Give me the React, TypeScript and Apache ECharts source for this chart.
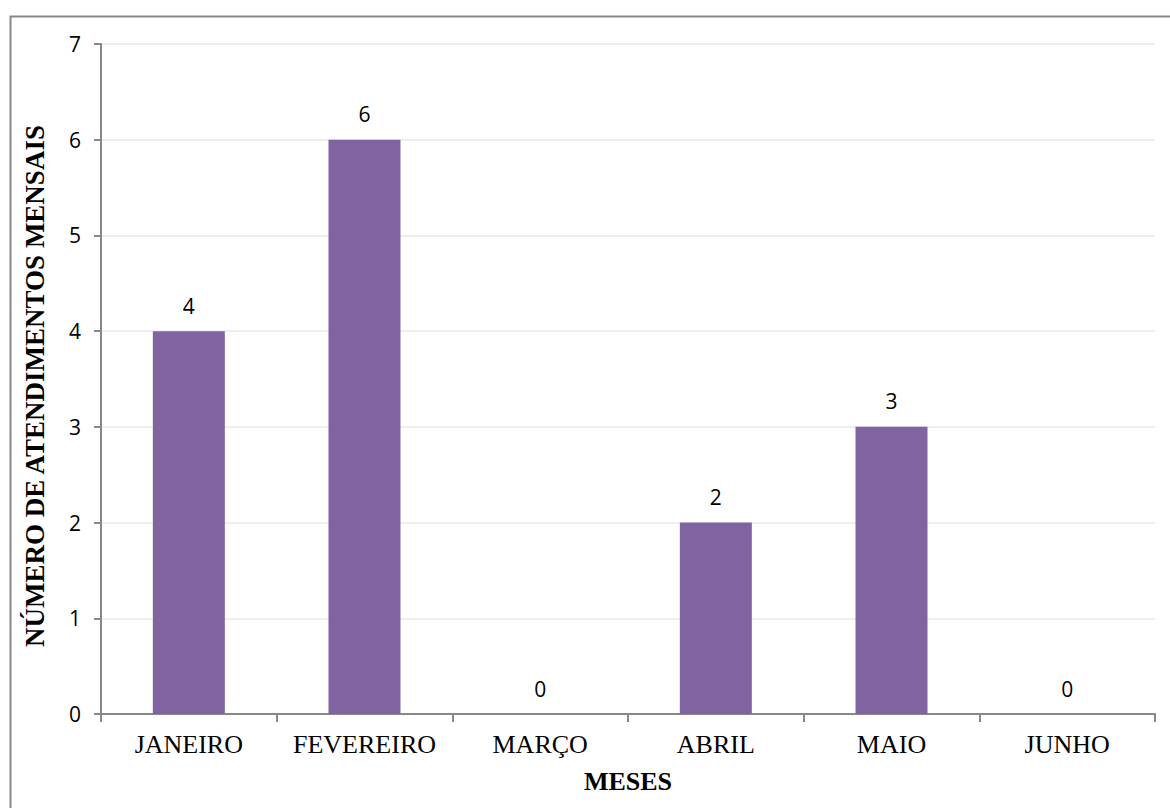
import React, { useEffect, useRef } from "react";
import * as echarts from "echarts";

const categories = ["JANEIRO", "FEVEREIRO", "MARÇO", "ABRIL", "MAIO", "JUNHO"];
const values = [4, 6, 0, 2, 3, 0];
const yTitle = "NÚMERO DE ATENDIMENTOS MENSAIS";
const xTitle = "MESES";

export default function App() {
  const ref = useRef<HTMLDivElement>(null);
  useEffect(() => {
    if (!ref.current) return;
    const chart = echarts.init(ref.current, null, { renderer: "svg" });
    chart.setOption({
      animation: false,
      backgroundColor: "#ffffff",
      graphic: [
        {
          type: "rect",
          left: 8,
          top: 14,
          shape: { width: 1300, height: 900 },
          style: { fill: "none", stroke: "#888888", lineWidth: 2 },
          silent: true,
        },
      ],
      grid: { left: 101, right: 15, top: 44, bottom: 94, containLabel: false },
      xAxis: {
        type: "category",
        data: categories,
        name: xTitle,
        nameLocation: "middle",
        nameGap: 54,
        nameTextStyle: { fontFamily: "Liberation Serif", fontWeight: "bold", fontSize: 26, color: "#000" },
        axisLine: { lineStyle: { color: "#888888", width: 2 } },
        axisTick: { show: true, length: 8, lineStyle: { color: "#888888", width: 2 } },
        axisLabel: { interval: 0, fontFamily: "Liberation Serif", fontSize: 26, color: "#000", margin: 17 },
        splitLine: { show: false },
      },
      yAxis: {
        type: "value",
        min: 0,
        max: 7,
        interval: 1,
        name: yTitle,
        nameLocation: "middle",
        nameGap: 53,
        nameRotate: 90,
        nameTextStyle: {
          fontFamily: "Liberation Serif",
          fontWeight: "bold",
          fontSize: 27,
          color: "#000",
          padding: [0, 14, 0, 0],
        },
        axisLine: { show: true, lineStyle: { color: "#888888", width: 2 } },
        axisTick: { show: true, length: 7, lineStyle: { color: "#888888", width: 2 } },
        axisLabel: { fontFamily: "Open Sans", fontSize: 21, color: "#000", margin: 20 },
        splitLine: { show: true, lineStyle: { color: "#eeeeee", width: 2 } },
      },
      series: [
        {
          type: "bar",
          data: values,
          barWidth: 72,
          itemStyle: { color: "#8064A2" },
          label: {
            show: true,
            position: "top",
            distance: 15,
            fontFamily: "Open Sans",
            fontSize: 21,
            color: "#000",
          },
        },
      ],
    });
    return () => chart.dispose();
  }, []);
  return (
    <div
      ref={ref}
      style={{ position: "fixed", left: 0, top: 0, width: 1170, height: 808 }}
    />
  );
}
